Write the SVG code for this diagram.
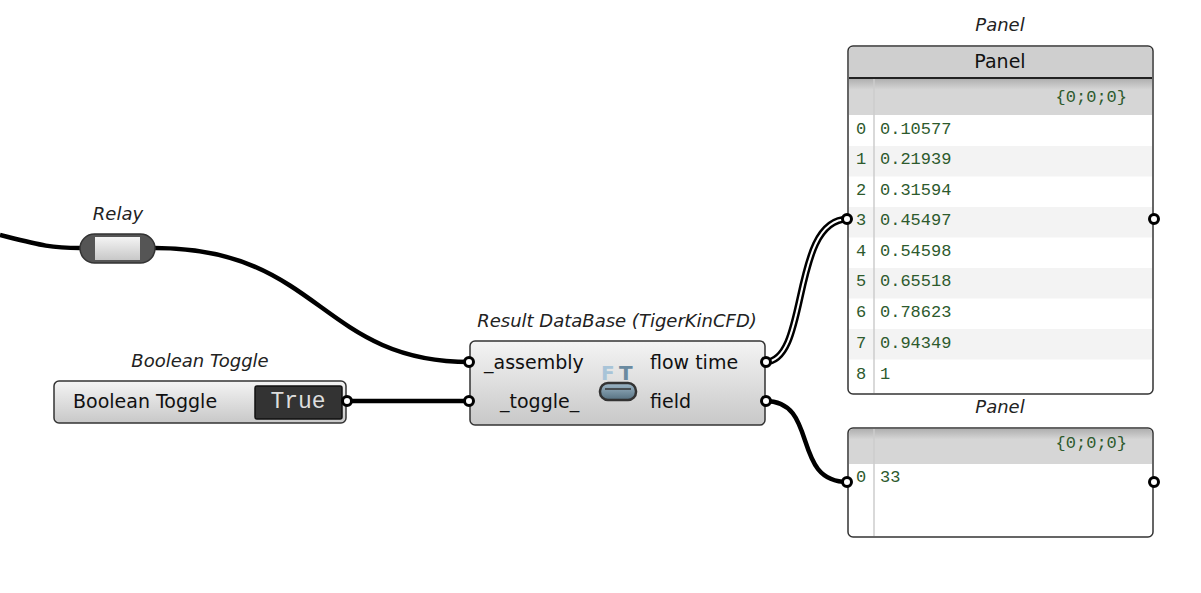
<svg xmlns="http://www.w3.org/2000/svg" width="1201" height="593" viewBox="0 0 1201 593">
<defs>
<linearGradient id="cg" x1="0" y1="0" x2="0" y2="1"><stop offset="0" stop-color="#f4f4f4"/><stop offset="1" stop-color="#c8c8c8"/></linearGradient>
<linearGradient id="sh" x1="0" y1="0" x2="0" y2="1"><stop offset="0" stop-color="#b0b0b0"/><stop offset="0.3" stop-color="#d6d6d6"/><stop offset="1" stop-color="#d6d6d6"/></linearGradient>
<linearGradient id="db" x1="0" y1="0" x2="0" y2="1"><stop offset="0" stop-color="#9fb8c8"/><stop offset="1" stop-color="#557080"/></linearGradient>
</defs>
<style>
.t{font-family:"DejaVu Sans",sans-serif;font-size:19px;fill:#111}
.cap{font-family:"DejaVu Sans",sans-serif;font-size:18px;font-style:italic;fill:#222;text-anchor:middle}
.m{font-family:"Liberation Mono",monospace;font-size:17px;fill:#2d5a2d}
.w{fill:none;stroke:#000;stroke-width:4.5}
.port{fill:#fff;stroke:#000;stroke-width:3}
.box{stroke:#333;stroke-width:1.5}
</style>
<g id="connectors">
<path class="w" d="M0,235 C40,245 50,248 80,248"/>
<path class="w" d="M155,248 C320,248 320,362 470,362"/>
<path class="w" d="M346,401 L470,401"/>
<path d="M765,362 C810,362 790,219 848,219" fill="none" stroke="#000" stroke-width="7"/>
<path d="M765,362 C810,362 790,219 848,219" fill="none" stroke="#fff" stroke-width="2"/>
<path class="w" d="M765,401 C820,401 790,482 848,482"/>
</g>
<g id="relay">
<text class="cap" x="118" y="220">Relay</text>
<rect x="80" y="234" width="75" height="29" rx="14.5" fill="#555" stroke="#333" stroke-width="1.5"/>
<rect x="95" y="237" width="45" height="23" fill="url(#cg)"/>
</g>
<g id="toggle">
<text class="cap" x="200" y="367">Boolean Toggle</text>
<rect class="box" x="54" y="381" width="292" height="42" rx="5" fill="url(#cg)"/>
<text class="t" x="73" y="408">Boolean Toggle</text>
<rect x="255" y="386" width="87" height="33" rx="2" fill="#333" stroke="#111" stroke-width="1.5"/>
<text x="298" y="408" text-anchor="middle" font-family="Liberation Mono,monospace" font-size="23" fill="#ddd">True</text>
<circle class="port" cx="347" cy="401" r="4.5"/>
</g>
<g id="result">
<text class="cap" x="617" y="327">Result DataBase (TigerKinCFD)</text>
<rect class="box" x="470" y="341" width="295" height="84" rx="5" fill="url(#cg)"/>
<text class="t" x="484" y="369">_assembly</text>
<text class="t" x="500" y="408">_toggle_</text>
<text class="t" x="650" y="369">flow time</text>
<text class="t" x="650" y="408">field</text>
<text x="601" y="380" font-family="DejaVu Sans,sans-serif" font-weight="bold" font-size="20" fill="#a8c4d8">F</text>
<text x="619" y="380" font-family="DejaVu Sans,sans-serif" font-weight="bold" font-size="20" fill="#6a8aa0">T</text>
<rect x="600" y="383" width="36" height="17" rx="8" fill="url(#db)" stroke="#333" stroke-width="2.5"/>
<line x1="605" y1="389" x2="631" y2="389" stroke="#333" stroke-width="1.5"/>
<circle class="port" cx="469" cy="362" r="4.5"/>
<circle class="port" cx="469" cy="401" r="4.5"/>
<circle class="port" cx="766" cy="362" r="4.5"/>
<circle class="port" cx="766" cy="401" r="4.5"/>
</g>
<g id="panel1">
<text class="cap" x="1000" y="31">Panel</text>
<rect class="box" x="848" y="46" width="305" height="348" rx="5" fill="#fff"/>
<path d="M849,77 V51 a4,4 0 0 1 4,-4 H1148 a4,4 0 0 1 4,4 V77 Z" fill="#cfcfcf"/>
<text x="1000" y="68" text-anchor="middle" font-family="DejaVu Sans,sans-serif" font-size="19" fill="#111">Panel</text>
<line x1="849" y1="78" x2="1152" y2="78" stroke="#222" stroke-width="2"/>
<rect x="849" y="79" width="303" height="36" fill="url(#sh)"/>
<text class="m" x="1127" y="102" text-anchor="end" font-size="15">{0;0;0}</text>
<rect x="849" y="146" width="303" height="30.5" fill="#f3f3f3"/>
<rect x="849" y="207" width="303" height="30.5" fill="#f3f3f3"/>
<rect x="849" y="268" width="303" height="30.5" fill="#f3f3f3"/>
<rect x="849" y="329" width="303" height="30.5" fill="#f3f3f3"/>
<line x1="874" y1="79" x2="874" y2="393" stroke="#ccc" stroke-width="1.5"/>
<g class="m">
<text x="856" y="134">0</text><text x="880" y="134">0.10577</text>
<text x="856" y="164">1</text><text x="880" y="164">0.21939</text>
<text x="856" y="195">2</text><text x="880" y="195">0.31594</text>
<text x="856" y="225">3</text><text x="880" y="225">0.45497</text>
<text x="856" y="256">4</text><text x="880" y="256">0.54598</text>
<text x="856" y="286">5</text><text x="880" y="286">0.65518</text>
<text x="856" y="317">6</text><text x="880" y="317">0.78623</text>
<text x="856" y="348">7</text><text x="880" y="348">0.94349</text>
<text x="856" y="379">8</text><text x="880" y="379">1</text>
</g>
<circle class="port" cx="847" cy="219" r="4.5"/>
<circle class="port" cx="1154" cy="219" r="4.5"/>
</g>
<g id="panel2">
<text class="cap" x="1000" y="413">Panel</text>
<rect class="box" x="848" y="428" width="305" height="109" rx="5" fill="#fff"/>
<path d="M849,464 V433 a4,4 0 0 1 4,-4 H1148 a4,4 0 0 1 4,4 V464 Z" fill="url(#sh)"/>
<text class="m" x="1127" y="448" text-anchor="end" font-size="15">{0;0;0}</text>
<line x1="874" y1="429" x2="874" y2="536" stroke="#ccc" stroke-width="1.5"/>
<text class="m" x="856" y="482">0</text><text class="m" x="880" y="482">33</text>
<circle class="port" cx="847" cy="482" r="4.5"/>
<circle class="port" cx="1154" cy="482" r="4.5"/>
</g>
</svg>
